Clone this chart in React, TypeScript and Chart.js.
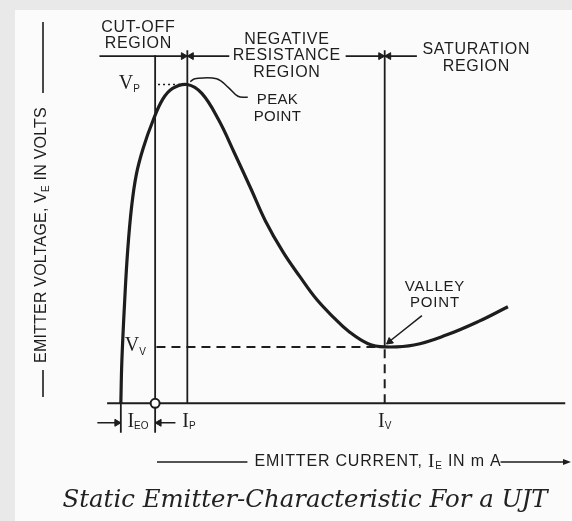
import React, { useEffect, useRef } from "react";
import { Chart, registerables } from "chart.js";

Chart.register(...registerables);

// ---------------- data (emitter current in mA, emitter voltage in V) ----------------
const curveCurrent = [0, 0.04, 0.15, 0.26, 0.41, 0.59, 0.85, 1.22, 1.59, 1.96, 2.52, 3.07, 3.7, 4.3, 4.93, 5.48, 6.15, 6.78, 7.41, 8.07, 8.63, 9.37, 10, 11.11, 12.33, 13.56, 14.67];
const curveVoltage = [0, 1.35, 3.28, 4.8, 6.18, 7.19, 8.01, 8.87, 9.54, 9.88, 10.0, 9.72, 8.9, 7.86, 6.73, 5.72, 4.74, 3.98, 3.27, 2.69, 2.26, 1.87, 1.77, 1.83, 2.14, 2.57, 3.03];

const I_EO = 1.3;
const I_P = 2.52;
const I_V = 10;
const V_P = 10;
const V_V = 1.77;

const xTickValues = [I_EO, I_P, I_V];
const xTickMain = ["I", "I", "I"];
const xTickSub = ["EO", "P", "V"];
const yTickValues = [V_P, V_V];
const yTickMain = ["V", "V"];
const yTickSub = ["P", "V"];

const regionTexts = [
  ["CUT-OFF", "REGION"],
  ["NEGATIVE", "RESISTANCE", "REGION"],
  ["SATURATION", "REGION"],
];
const peakText = ["PEAK", "POINT"];
const valleyText = ["VALLEY", "POINT"];
const xTitle = ["EMITTER CURRENT, ", "I", "E", " IN m A"];
const yTitle = ["EMITTER VOLTAGE, ", "V", "E", " IN VOLTS"];
const caption = "Static Emitter-Characteristic For a UJT";

// ---------------- layout / style ----------------
const W = 572;
const H = 521;
const INK = "#1d1d1d";
const SANS = '"Liberation Sans", Arial, sans-serif';
const SERIF = '"Liberation Serif", "Times New Roman", serif';

const X_MIN = -4.333;
const X_MAX = 16.852;
const Y_MIN = -3.486;
const Y_MAX = 12.446;

const regionLevel = 10.89;
const guideTop = 11.07;
const dimLevel = -0.61;
const extBottom = -0.92;
const axisStart = -0.52;

type Seg = { t: string; font: string; dy?: number };

function setSpacing(ctx: CanvasRenderingContext2D, s: string) {
  (ctx as any).letterSpacing = s;
}

function richWidth(ctx: CanvasRenderingContext2D, segs: Seg[]) {
  let w = 0;
  for (const s of segs) {
    ctx.font = s.font;
    w += ctx.measureText(s.t).width;
  }
  return w;
}

function drawRich(ctx: CanvasRenderingContext2D, segs: Seg[], x: number, y: number, align: "left" | "center") {
  const w = richWidth(ctx, segs);
  let cx = align === "center" ? x - w / 2 : x;
  ctx.textAlign = "left";
  ctx.textBaseline = "middle";
  for (const s of segs) {
    ctx.font = s.font;
    ctx.fillText(s.t, cx, y + (s.dy || 0));
    cx += ctx.measureText(s.t).width;
  }
  return w;
}

function drawLines(ctx: CanvasRenderingContext2D, lines: string[], x: number, y: number, font: string, pitch: number, spacing: number) {
  ctx.font = font;
  setSpacing(ctx, `${spacing}px`);
  ctx.textAlign = "left";
  ctx.textBaseline = "middle";
  const top = y - ((lines.length - 1) * pitch) / 2;
  lines.forEach((l, i) => {
    const w = ctx.measureText(l).width - spacing;
    ctx.fillText(l, x - w / 2, top + i * pitch);
  });
  setSpacing(ctx, "0px");
}

const decorPlugin = {
  id: "decor",
  beforeDraw(chart: any) {
    const ctx = chart.ctx as CanvasRenderingContext2D;
    ctx.save();
    ctx.fillStyle = "#e9e9e9";
    ctx.fillRect(0, 0, W, H);
    ctx.fillStyle = "#fbfbfb";
    ctx.fillRect(15, 10, W - 15, H - 10);
    ctx.restore();
  },
  afterDatasetsDraw(chart: any) {
    const ctx = chart.ctx as CanvasRenderingContext2D;
    const xs = chart.scales.x;
    const ys = chart.scales.y;
    const px = (v: number) => xs.getPixelForValue(v);
    const py = (v: number) => ys.getPixelForValue(v);
    ctx.save();
    ctx.fillStyle = INK;
    ctx.strokeStyle = INK;

    // region labels
    const regionFont = `16px ${SANS}`;
    drawLines(ctx, regionTexts[0], px(0.65), py(11.53), regionFont, 16, 0.7);
    drawLines(ctx, regionTexts[1], px(6.28), py(10.9), regionFont, 16.5, 0.7);
    drawLines(ctx, regionTexts[2], px(13.46), py(10.84), regionFont, 17, 0.7);
    drawLines(ctx, peakText, px(5.93), py(9.25), `15px ${SANS}`, 16.5, 0.3);
    drawLines(ctx, valleyText, px(11.89), py(3.39), `15px ${SANS}`, 16, 0.8);

    // x tick labels
    const mainF = `20px ${SERIF}`;
    const subF = `10px ${SANS}`;
    const xl = [px(I_EO / 2), px(I_P) - 5, px(I_V)];
    const xa: ("left" | "center")[] = ["center", "left", "center"];
    xTickValues.forEach((_, i) => {
      drawRich(ctx, [{ t: xTickMain[i], font: mainF }, { t: xTickSub[i], font: subF, dy: 5 }], xl[i], py(0) + 18, xa[i]);
    });
    // y tick labels
    const yl = [px(0) - 2, px(0) + 4];
    yTickValues.forEach((v, i) => {
      drawRich(ctx, [{ t: yTickMain[i], font: mainF }, { t: yTickSub[i], font: subF, dy: 6 }], yl[i], py(v) - 1, "left");
    });

    // x title
    setSpacing(ctx, "0.8px");
    const xt: Seg[] = [
      { t: xTitle[0], font: `16px ${SANS}` },
      { t: xTitle[1], font: `19px ${SERIF}` },
      { t: xTitle[2], font: `10px ${SANS}`, dy: 4 },
      { t: xTitle[3], font: `16px ${SANS}` },
    ];
    const xtW = richWidth(ctx, xt);
    const xtC = 378;
    const xtY = 462;
    drawRich(ctx, xt, xtC, xtY, "center");
    setSpacing(ctx, "0px");
    ctx.lineWidth = 1.6;
    ctx.beginPath();
    ctx.moveTo(157, xtY);
    ctx.lineTo(xtC - xtW / 2 - 7, xtY);
    ctx.moveTo(xtC + xtW / 2 - 1, xtY);
    ctx.lineTo(566, xtY);
    ctx.stroke();
    ctx.beginPath();
    ctx.moveTo(571, xtY);
    ctx.lineTo(563, xtY - 3);
    ctx.lineTo(563, xtY + 3);
    ctx.closePath();
    ctx.fill();

    // y title (rotated)
    setSpacing(ctx, "0.2px");
    const yt: Seg[] = [
      { t: yTitle[0], font: `16px ${SANS}` },
      { t: yTitle[1], font: `16px ${SANS}` },
      { t: yTitle[2], font: `10px ${SANS}`, dy: 4 },
      { t: yTitle[3], font: `16px ${SANS}` },
    ];
    const ytW = richWidth(ctx, yt);
    const ytC = 235;
    ctx.save();
    ctx.translate(42, ytC);
    ctx.rotate(-Math.PI / 2);
    drawRich(ctx, yt, 0, 0, "center");
    ctx.restore();
    setSpacing(ctx, "0px");
    ctx.beginPath();
    ctx.moveTo(43, 22);
    ctx.lineTo(43, ytC - ytW / 2 - 14);
    ctx.moveTo(43, ytC + ytW / 2 + 7);
    ctx.lineTo(43, 397);
    ctx.stroke();

    // caption
    ctx.font = `italic 20px "DejaVu Serif", serif`;
    const cw = ctx.measureText(caption).width;
    const size = (20 * 485) / cw;
    ctx.font = `italic ${size.toFixed(2)}px "DejaVu Serif", serif`;
    ctx.textAlign = "center";
    ctx.textBaseline = "middle";
    ctx.fillStyle = "#222";
    ctx.fillText(caption, 305, 501);

    ctx.restore();
  },
};

type P = [number, number];

export default function App() {
  const ref = useRef<HTMLCanvasElement>(null);
  useEffect(() => {
    const canvas = ref.current;
    if (!canvas) return;
    const seg = (pts: P[], extra: any = {}) => ({
      data: pts.map(([x, y]) => ({ x, y })),
      borderColor: INK,
      borderWidth: 1.8,
      pointRadius: 0,
      showLine: true,
      fill: false,
      tension: 0,
      ...extra,
    });
    const curve = curveCurrent.map((x, i) => ({ x, y: curveVoltage[i] }));

    const heads = [
      { x: I_P - 0.15, y: regionLevel, r: 90 },
      { x: I_P + 0.15, y: regionLevel, r: 270 },
      { x: I_V - 0.15, y: regionLevel, r: 90 },
      { x: I_V + 0.15, y: regionLevel, r: 270 },
      { x: -0.15, y: dimLevel, r: 90 },
      { x: I_EO + 0.15, y: dimLevel, r: 270 },
      { x: I_V + 0.19, y: V_V + 0.17, r: 231 },
    ];

    const datasets: any[] = [
      {
        data: [{ x: I_EO, y: 0 }],
        showLine: false,
        pointRadius: 4.5,
        pointStyle: "circle",
        pointBackgroundColor: "#fff",
        pointBorderColor: INK,
        pointBorderWidth: 2,
      },
      {
        data: heads.map((h) => ({ x: h.x, y: h.y })),
        showLine: false,
        pointStyle: "triangle",
        pointRadius: 4,
        pointRotation: heads.map((h) => h.r),
        pointBackgroundColor: INK,
        pointBorderColor: INK,
        pointBorderWidth: 1,
      },
      {
        data: curve,
        borderColor: INK,
        borderWidth: 3.2,
        pointRadius: 0,
        tension: 0.4,
        fill: false,
      },
      seg([[axisStart, 0], [X_MAX, 0]], { borderWidth: 2 }),
      seg([[I_EO, extBottom], [I_EO, 10.92]]),
      seg([[I_P, 0], [I_P, guideTop]]),
      seg([[I_V, V_V], [I_V, guideTop]]),
      seg([[I_V, 0], [I_V, V_V]], { borderDash: [9, 6], borderWidth: 2 }),
      seg([[1.35, V_V], [I_V, V_V]], { borderDash: [9, 6], borderWidth: 2 }),
      seg([[1.41, V_P], [2.44, V_P]], { borderDash: [2, 3], borderWidth: 1.5 }),
      seg([[0, 0], [0, extBottom]]),
      seg([[-0.81, regionLevel], [4.11, regionLevel]], { borderWidth: 1.6 }),
      seg([[8.52, regionLevel], [11.22, regionLevel]], { borderWidth: 1.6 }),
      seg([[-0.89, dimLevel], [0, dimLevel]], { borderWidth: 1.5 }),
      seg([[I_EO, dimLevel], [2.07, dimLevel]], { borderWidth: 1.5 }),
      seg([[2.63, 10.09], [2.81, 10.18], [3.63, 10.18], [4.07, 9.91], [4.44, 9.63], [4.81, 9.6]], { borderWidth: 1.5, tension: 0.4 }),
      seg([[11.41, 2.75], [I_V + 0.07, V_V + 0.1]], { borderWidth: 1.5 }),
    ];

    const chart = new Chart(canvas, {
      type: "line",
      data: { datasets },
      options: {
        responsive: false,
        maintainAspectRatio: false,
        animation: false,
        devicePixelRatio: 1,
        layout: { padding: 0 },
        plugins: { legend: { display: false }, tooltip: { enabled: false }, title: { display: false } },
        events: [],
        scales: {
          x: { type: "linear", min: X_MIN, max: X_MAX, display: false },
          y: { type: "linear", min: Y_MIN, max: Y_MAX, display: false },
        },
      },
      plugins: [decorPlugin],
    } as any);
    return () => chart.destroy();
  }, []);

  return (
    <div style={{ position: "fixed", left: 0, top: 0, width: W, height: H }}>
      <canvas ref={ref} width={W} height={H} style={{ display: "block", width: W, height: H }} />
    </div>
  );
}
